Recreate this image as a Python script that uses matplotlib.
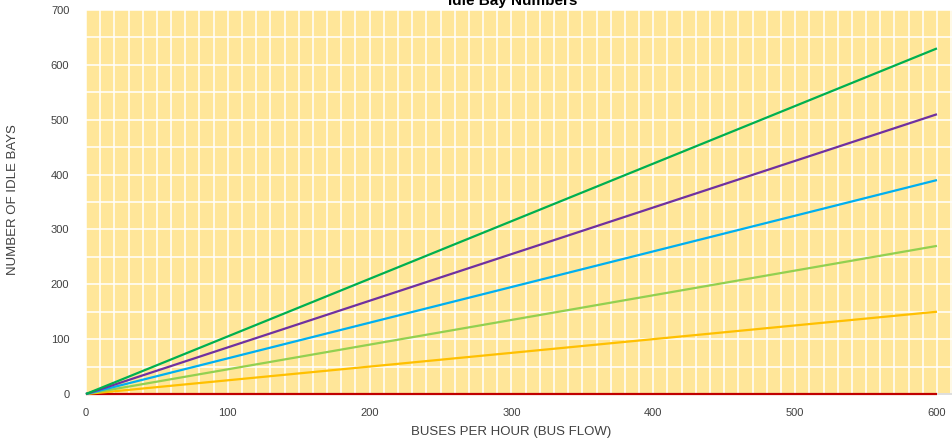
import matplotlib.pyplot as plt
from matplotlib.ticker import MultipleLocator

# bus flow (buses per hour)
bus_flow = [0, 100, 200, 300, 400, 500, 600]

# idle bay numbers per series
idle_green = [0, 105, 210, 315, 420, 525, 630]
idle_purple = [0, 85, 170, 255, 340, 425, 510]
idle_blue = [0, 65, 130, 195, 260, 325, 390]
idle_lightgreen = [0, 45, 90, 135, 180, 225, 270]
idle_orange = [0, 25, 50, 75, 100, 125, 150]
idle_red = [0, 0, 0, 0, 0, 0, 0]

x_ticks = [0, 100, 200, 300, 400, 500, 600]
y_ticks = [0, 100, 200, 300, 400, 500, 600, 700]

plt.rcParams['font.family'] = ['Liberation Sans', 'DejaVu Sans']

fig = plt.figure(figsize=(9.52, 4.45), dpi=100)
ax = fig.add_axes([86 / 952, 51 / 445, 866 / 952, 384 / 445])
ax.set_facecolor('#FFE699')

series = [
    (idle_red, '#C00000'),
    (idle_orange, '#FFC000'),
    (idle_lightgreen, '#92D050'),
    (idle_blue, '#00B0F0'),
    (idle_purple, '#7030A0'),
    (idle_green, '#00B050'),
]
for ys, col in series:
    ax.plot(bus_flow, ys, color=col, lw=1.6, solid_capstyle='butt',
            zorder=4, clip_on=False)

ax.set_xlim(0, 610.6)
ax.set_ylim(0, 700)
ax.set_xticks(x_ticks)
ax.set_yticks(y_ticks)
ax.xaxis.set_minor_locator(MultipleLocator(10))
ax.yaxis.set_minor_locator(MultipleLocator(50))
ax.grid(which='both', color='white', lw=1.1, zorder=1)
ax.set_axisbelow(True)

for s in ['top', 'right', 'left']:
    ax.spines[s].set_visible(False)
ax.spines['bottom'].set_color('#D9D9D9')
ax.spines['bottom'].set_linewidth(1.2)
ax.spines['bottom'].set_zorder(2)

ax.tick_params(which='both', length=0, labelsize=8, colors='#404040', pad=10)
ax.tick_params(axis='y', pad=12)

fig.text(13 / 952, 1 - 200 / 445, 'NUMBER OF IDLE BAYS', rotation=90,
         ha='center', va='center', fontsize=9.5, color='#404040')
fig.text(511 / 952, 1 - 432 / 445, 'BUSES PER HOUR (BUS FLOW)',
         ha='center', va='center', fontsize=9.5, color='#404040')
fig.text(513 / 952, 1 - 1 / 445, 'Idle Bay Numbers', ha='center', va='center',
         fontsize=11, fontweight='bold', color='black')

fig.savefig('out.png', dpi=100)
